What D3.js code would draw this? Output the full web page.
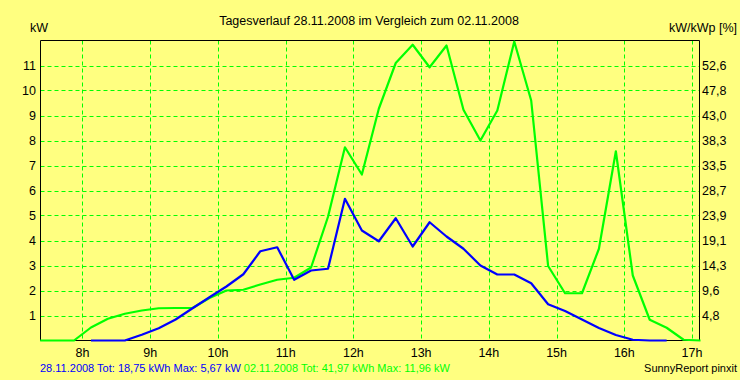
<!DOCTYPE html>
<html><head><meta charset="utf-8">
<script src="https://cdn.jsdelivr.net/npm/d3@7"></script>
<style>
html,body{margin:0;padding:0;background:#ffff80;}
svg{display:block;}
text{font-family:"Liberation Sans",Arial,sans-serif;}
</style></head>
<body>
<script>
// sample times (decimal hours), 15-minute intervals
const times = [7.375,7.625,7.875,8.125,8.375,8.625,8.875,9.125,9.375,9.625,
  9.875,10.125,10.375,10.625,10.875,11.125,11.375,11.625,11.875,12.125,
  12.375,12.625,12.875,13.125,13.375,13.625,13.875,14.125,14.375,14.625,
  14.875,15.125,15.375,15.625,15.875,16.125,16.375,16.625,16.875,17.125];
// 28.11.2008 (blue), kW
const seriesToday = [null,null,null,0,0,0,0.23,0.49,0.84,1.29,
  1.73,2.16,2.65,3.57,3.73,2.43,2.8,2.87,5.67,4.4,
  3.97,4.89,3.76,4.73,4.16,3.67,3.0,2.64,2.64,2.29,
  1.45,1.18,0.84,0.5,0.22,0.03,0,0,null,null];
// 02.11.2008 (green), kW
const seriesCompare = [0,0,0,0.52,0.87,1.07,1.2,1.29,1.3,1.3,
  1.7,2.0,2.03,2.24,2.43,2.51,2.92,4.95,7.73,6.64,
  9.27,11.1,11.83,10.93,11.8,9.23,8.0,9.2,11.96,9.6,
  2.98,1.89,1.89,3.67,7.57,2.6,0.83,0.51,0.03,0];
const hourTicks = [8,9,10,11,12,13,14,15,16,17];
const kwTicks = [1,2,3,4,5,6,7,8,9,10,11];
const pctTickLabels = ["4,8","9,6","14,3","19,1","23,9","28,7","33,5","38,3","43,0","47,8","52,6"];
const titleText = "Tagesverlauf 28.11.2008 im Vergleich zum 02.11.2008";
const footerToday = "28.11.2008 Tot: 18,75 kWh Max: 5,67 kW";
const footerCompare = "02.11.2008 Tot: 41,97 kWh Max: 11,96 kW";
const footerRight = "SunnyReport pinxit";

const W = 740, H = 380;
const L = 40.5, R = 699.5, T = 40.5, B = 340.5;
const svg = d3.select("body").append("svg").attr("width", W).attr("height", H);
svg.append("rect").attr("width", W).attr("height", H).attr("fill", "#ffff80");

const x = d3.scaleLinear().domain([7.38, 17.11]).range([L, R]);
const y = d3.scaleLinear().domain([0, 12]).range([B, T]);

const gridColor = "#00ff00";
// horizontal grid
svg.append("g").selectAll("line").data(kwTicks).join("line")
  .attr("x1", L).attr("x2", R)
  .attr("y1", d => Math.round(y(d)) + 0.5).attr("y2", d => Math.round(y(d)) + 0.5)
  .attr("stroke", gridColor).attr("stroke-width", 1).attr("stroke-dasharray", "4,3");
// vertical grid
svg.append("g").selectAll("line").data(hourTicks).join("line")
  .attr("x1", d => Math.round(x(d)) + 0.5).attr("x2", d => Math.round(x(d)) + 0.5)
  .attr("y1", T).attr("y2", B)
  .attr("stroke", gridColor).attr("stroke-width", 1).attr("stroke-dasharray", "4,3");

// frame
const frame = svg.append("g").attr("stroke", "#000").attr("stroke-width", 1);
frame.append("line").attr("x1", L).attr("x2", L).attr("y1", T).attr("y2", B);
frame.append("line").attr("x1", R).attr("x2", R).attr("y1", T).attr("y2", B);
frame.append("line").attr("x1", L).attr("x2", R).attr("y1", T).attr("y2", T);
frame.append("line").attr("x1", L).attr("x2", R).attr("y1", B).attr("y2", B);

// series
const line = (vals) => d3.line()
  .defined((d, i) => vals[i] !== null)
  .x((d, i) => x(times[i]))
  .y((d, i) => y(vals[i]))(vals);

svg.append("path").attr("d", line(seriesCompare)).attr("fill", "none")
  .attr("stroke", "#00ff00").attr("stroke-width", 2.2).attr("stroke-linejoin", "round");
svg.append("path").attr("d", line(seriesToday)).attr("fill", "none")
  .attr("stroke", "#0000ff").attr("stroke-width", 2.2).attr("stroke-linejoin", "round");

// left axis labels
svg.append("g").selectAll("text").data(kwTicks).join("text")
  .attr("x", 36).attr("y", d => y(d) + 4.5).attr("text-anchor", "end")
  .attr("font-size", 12.5).attr("fill", "#000").text(d => d);
// right axis labels
svg.append("g").selectAll("text").data(kwTicks).join("text")
  .attr("x", 702).attr("y", d => y(d) + 4.5).attr("text-anchor", "start")
  .attr("font-size", 12.5).attr("fill", "#000").text((d, i) => pctTickLabels[i]);
// bottom labels
svg.append("g").selectAll("text").data(hourTicks).join("text")
  .attr("x", d => x(d)).attr("y", 357).attr("text-anchor", "middle")
  .attr("font-size", 12.5).attr("fill", "#000").text(d => d + "h");

// titles
svg.append("text").attr("x", 369).attr("y", 25).attr("text-anchor", "middle")
  .attr("font-size", 12.5).attr("fill", "#000").text(titleText);
svg.append("text").attr("x", 30).attr("y", 32).attr("font-size", 12.5).attr("fill", "#000").text("kW");
svg.append("text").attr("x", 737).attr("y", 32).attr("text-anchor", "end")
  .attr("font-size", 12.5).attr("fill", "#000").text("kW/kWp [%]");

// footer
const ft = svg.append("text").attr("x", 40).attr("y", 372).attr("font-size", 11);
ft.append("tspan").attr("fill", "#0000ff").text(footerToday + " ");
ft.append("tspan").attr("fill", "#00ff00").text(footerCompare);
svg.append("text").attr("x", 737).attr("y", 372).attr("text-anchor", "end")
  .attr("font-size", 11).attr("fill", "#000").text(footerRight);
</script>
</body></html>
